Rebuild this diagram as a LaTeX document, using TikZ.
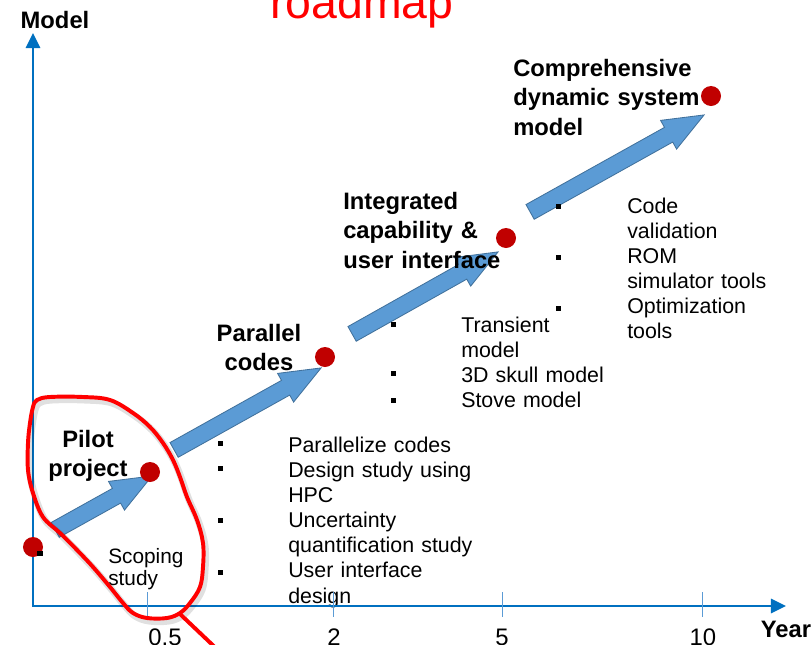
\documentclass[tikz,border=0pt]{standalone}
\usepackage{fontspec}
\setmainfont{Liberation Sans}
\usetikzlibrary{arrows.meta,positioning,calc,shapes.arrows}
\definecolor{axisblue}{HTML}{0070C0}
\definecolor{tickblue}{HTML}{5B9BD5}
\definecolor{dotred}{HTML}{C00000}
\definecolor{arrowfill}{HTML}{5B9BD5}
\definecolor{arrowedge}{HTML}{41719C}

% block arrow from #2 to #3, named #1
\newcommand{\blkarrow}[3]{%
  \path let \p1=($(#3)-(#2)$), \n1={atan2(\y1,\x1)}, \n2={veclen(\x1,\y1)} in
    node[blk, minimum height=\n2, rotate=\n1] (#1) at ($(#2)!0.5!(#3)$) {};}

\begin{document}
\begin{tikzpicture}[x=0.025cm, y=-0.025cm,
  dot/.style={circle, fill=dotred, minimum size=5mm, inner sep=0pt},
  bul/.style={fill=black, minimum size=1.25mm, inner sep=0pt},
  blk/.style={single arrow, draw=arrowedge, fill=arrowfill, line width=0.6pt,
    inner xsep=0pt, inner ysep=2mm, single arrow head extend=2mm, single arrow tip angle=44},
  head/.style={font=\fontsize{16.9}{21}\selectfont\bfseries, inner sep=0pt},
  items/.style={font=\fontsize{15.2}{17.9}\selectfont, inner sep=0pt, anchor=base west,
    align=left, text width=6cm},
  num/.style={font=\fontsize{17}{20}\selectfont, inner sep=0pt, anchor=base},
  axis/.style={draw=axisblue, line width=2.1pt},
  tick/.style={draw=tickblue, line width=0.7pt},
  scribble/.style={draw=red, line width=2.8pt, line cap=round, line join=round}]
\useasboundingbox (0,0) rectangle (812,645);

% title
\node[font=\fontsize{33}{36}\selectfont, text=red, anchor=base, inner sep=0pt] (title) at (362,18) {roadmap};

% block arrows
\coordinate (t1) at (46,535);  \coordinate (h1) at (143,481);
\coordinate (t2) at (165,455); \coordinate (h2) at (312,373);
\coordinate (t3) at (343,339); \coordinate (h3) at (489,257);
\coordinate (t4) at (521,217); \coordinate (h4) at (695,120);
\blkarrow{a1}{t1}{h1}
\blkarrow{a2}{t2}{h2}
\blkarrow{a3}{t3}{h3}
\blkarrow{a4}{t4}{h4}

% item lists
\node[items] (list1) at (288,452) {Parallelize codes\\Design study using\\HPC\\Uncertainty\\quantification study\\User interface\\design};
\node[items] (list2) at (461,332) {Transient\\model\\3D skull model\\Stove model};
\node[items] (list3) at (627,213) {Code\\validation\\ROM\\simulator tools\\Optimization\\tools};
\node[items, font=\fontsize{14.8}{15.8}\selectfont] (scope) at (108,563) {Scoping\\study};

% axes
\coordinate (O) at (33,606);
\coordinate (ytop) at (33,33);
\coordinate (xend) at (786,606);
\draw[axis, {Triangle[length=3.75mm, width=3.5mm]}-{Triangle[length=3.75mm, width=3.5mm]}] (ytop) -- (O) -- (xend);
\draw[tick] (147,592) -- (147,617);
\draw[tick] (333,592) -- (333,617);
\draw[tick] (502,592) -- (502,617);
\draw[tick] (702,592) -- (702,617);
\node[num] (l05) at (165,645) {0.5};
\node[num] (l2) at (334,645) {2};
\node[num] (l5) at (502,645) {5};
\node[num] (l10) at (703,645) {10};
\node[head, anchor=base] (model) at (55,28) {Model};
\node[head, anchor=base] (year) at (786,637) {Year};

% milestones
\node[dot] (d0) at (33,547) {};
\node[dot] (d1) at (150,472) {};
\node[dot] (d2) at (325,357) {};
\node[dot] (d3) at (506,238) {};
\node[dot] (d4) at (711,96) {};

% bullets
\node[bul] (b0) at (40,553) {};
\node[bul] (b11) at (220,443) {};
\node[bul] (b12) at (220,468) {};
\node[bul] (b13) at (220,520) {};
\node[bul] (b14) at (220,572) {};
\node[bul] (b21) at (393,324) {};
\node[bul] (b22) at (393,373) {};
\node[bul] (b23) at (393,400) {};
\node[bul] (b31) at (558,206) {};
\node[bul] (b32) at (558,257) {};
\node[bul] (b33) at (558,308) {};

% milestone titles
\node[head, anchor=base, align=center, text width=3cm] (pilot) at (88,447) {Pilot\\project};
\node[head, anchor=base, align=center, text width=3cm] (par) at (259,341) {Parallel\\codes};
\node[head, anchor=base west, align=left, text width=5cm] (integ) at (343,209) {Integrated\\capability \&\\user interface};
\node[head, anchor=base west, align=left, text width=5cm] (compr) at (513,76) {Comprehensive\\dynamic system\\model};

% hand drawn circle, with its soft shadow
\begin{scope}[shift={(2,3)}]
\draw[scribble, draw=black, opacity=0.12, line width=5pt] plot[smooth cycle, tension=0.6] coordinates {(37,400) (50,397) (83,397) (110,400) (133,413)
  (150,427) (163,443) (173,460) (180,477) (187,497) (197,520) (203,543) (203,567) (200,587) (190,603)
  (180,613) (167,618) (147,618) (133,613) (123,603) (110,587) (93,567) (77,550) (60,533) (43,517)
  (33,493) (28,470) (28,443) (30,423) (33,407)};
\end{scope}
\draw[scribble] plot[smooth cycle, tension=0.6] coordinates {(37,400) (50,397) (83,397) (110,400) (133,413)
  (150,427) (163,443) (173,460) (180,477) (187,497) (197,520) (203,543) (203,567) (200,587) (190,603)
  (180,613) (167,618) (147,618) (133,613) (123,603) (110,587) (93,567) (77,550) (60,533) (43,517)
  (33,493) (28,470) (28,443) (30,423) (33,407)};
\draw[scribble] (180,614) -- (220,652);
\end{tikzpicture}
\end{document}
